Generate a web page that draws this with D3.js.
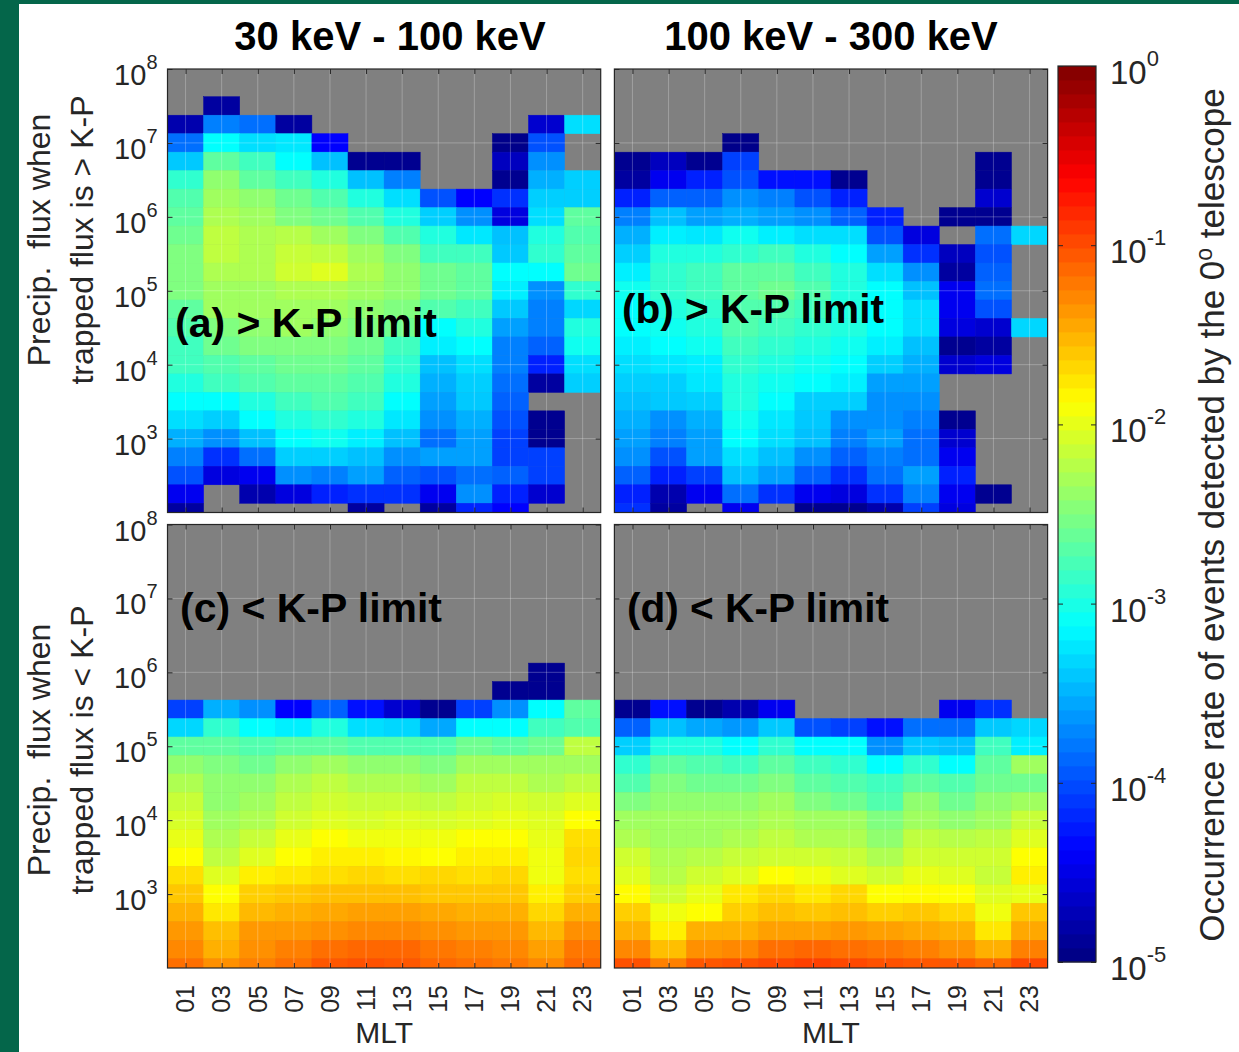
<!DOCTYPE html>
<html lang="en">
<head>
<meta charset="UTF-8">
<title>Occurrence rate vs MLT</title>
<script src="https://cdn.jsdelivr.net/npm/d3@7"></script>
<style>
    body { margin: 0; background: #fff; }
    svg { display: block; font-family: "Liberation Sans", Arial, sans-serif; }
</style>
</head>
<body>
<svg id="chart" width="1239" height="1052"></svg>
<script>
// MLT bins are 2 h wide, labelled by their centre
var mltLabels = ["01", "03", "05", "07", "09", "11", "13", "15", "17", "19", "21", "23"];
var mltCentres = [1, 3, 5, 7, 9, 11, 13, 15, 17, 19, 21, 23];
// log10 of the flux at each row centre, top row first
var fluxBins = [8, 7.75, 7.5, 7.25, 7, 6.75, 6.5, 6.25, 6, 5.75, 5.5, 5.25, 5,
    4.75, 4.5, 4.25, 4, 3.75, 3.5, 3.25, 3, 2.75, 2.5, 2.25, 2];
var fluxTicks = [1e3, 1e4, 1e5, 1e6, 1e7, 1e8];
var rateTicks = [1e-5, 1e-4, 1e-3, 1e-2, 1e-1, 1e0];
var titles = ["30 keV - 100 keV", "100 keV - 300 keV"];
var N = null; // no data -> grey

// log10 occurrence rate, rows follow fluxBins, columns follow mltCentres
var panelA = [
    [N, N, N, N, N, N, N, N, N, N, N, N],
    [N, N, N, N, N, N, N, N, N, N, N, N],
    [N, -4.84, N, N, N, N, N, N, N, N, N, N],
    [-4.77, -3.75, -3.83, -4.84, N, N, N, N, N, N, -4.61, -3.28],
    [-3.83, -3.12, -3.28, -3.24, -4.38, N, N, N, N, -4.95, -3.98, N],
    [-3.39, -2.66, -2.81, -3.12, -3.43, -4.92, -4.92, N, N, -4.69, -3.67, N],
    [-2.89, -2.42, -2.66, -2.81, -2.97, -3.43, -3.75, N, N, -4.92, -3.51, -3.36],
    [-2.73, -2.34, -2.42, -2.58, -2.73, -2.97, -3.28, -3.98, -4.38, -4.14, -3.36, -3.36],
    [-2.66, -2.27, -2.34, -2.5, -2.58, -2.73, -2.97, -3.36, -3.67, -4.53, -3.28, -2.66],
    [-2.58, -2.19, -2.27, -2.23, -2.34, -2.5, -2.73, -2.97, -3.24, -3.43, -2.97, -2.73],
    [-2.5, -2.19, -2.27, -2.15, -2.19, -2.34, -2.5, -2.81, -2.81, -3.39, -2.89, -2.66],
    [-2.5, -2.27, -2.27, -2.11, -2.03, -2.27, -2.42, -2.58, -2.66, -3.12, -3.12, -2.58],
    [-2.5, -2.34, -2.34, -2.27, -2.27, -2.34, -2.42, -2.58, -2.66, -3.2, -3.67, -2.89],
    [-2.66, -2.34, -2.34, -2.34, -2.34, -2.42, -2.5, -2.73, -2.81, -3.39, -3.75, -3.32],
    [-2.73, -2.5, -2.42, -2.34, -2.42, -2.5, -2.58, -3.12, -2.97, -3.59, -3.75, -2.97],
    [-2.81, -2.58, -2.5, -2.5, -2.5, -2.58, -2.81, -3.2, -3.12, -3.75, -3.9, -3.05],
    [-2.81, -2.73, -2.66, -2.58, -2.58, -2.66, -2.89, -3.43, -3.28, -3.75, -4.22, -3.28],
    [-2.97, -2.81, -2.73, -2.66, -2.66, -2.73, -2.97, -3.51, -3.36, -3.83, -4.84, -3.36],
    [-3.12, -3.12, -2.97, -2.81, -2.73, -2.81, -3.12, -3.59, -3.39, -3.9, N, N],
    [-3.28, -3.36, -3.12, -2.97, -2.89, -2.97, -3.24, -3.67, -3.51, -3.98, -4.92, N],
    [-3.51, -3.67, -3.43, -3.12, -3.05, -3.2, -3.43, -3.83, -3.59, -4.06, -4.92, N],
    [-3.75, -4.14, -3.83, -3.36, -3.36, -3.43, -3.67, -3.59, -3.59, -4.06, -4.06, N],
    [-3.98, -4.53, -4.45, -3.67, -3.75, -3.59, -3.9, -3.98, -3.83, -3.9, -4.06, N],
    [-4.45, N, -4.77, -4.53, -4.22, -4.14, -4.14, -4.45, -3.67, -4.22, -4.61, N],
    [-4.84, N, N, N, N, -4.84, N, -4.84, -4.2, -4.38, N, N]
];
var panelB = [
    [N, N, N, N, N, N, N, N, N, N, N, N],
    [N, N, N, N, N, N, N, N, N, N, N, N],
    [N, N, N, N, N, N, N, N, N, N, N, N],
    [N, N, N, N, N, N, N, N, N, N, N, N],
    [N, N, N, -4.95, N, N, N, N, N, N, N, N],
    [-4.92, -4.69, -4.92, -4.06, N, N, N, N, N, N, -4.92, N],
    [-4.84, -4.45, -4.22, -3.98, -4.3, -4.3, -4.92, N, N, N, -4.92, N],
    [-4.22, -3.9, -3.9, -3.67, -3.75, -3.98, -4.22, N, N, N, -4.61, N],
    [-3.75, -3.43, -3.59, -3.51, -3.59, -3.67, -3.9, -4.22, N, -4.92, -4.92, N],
    [-3.51, -3.2, -3.24, -3.05, -3.2, -3.28, -3.28, -3.98, -4.53, N, -3.83, -3.32],
    [-3.36, -2.97, -2.97, -2.89, -2.81, -2.97, -3.12, -3.59, -4.14, -4.69, -3.98, N],
    [-3.2, -2.89, -2.81, -2.66, -2.66, -2.81, -2.97, -3.28, -3.67, -4.84, -3.9, N],
    [-3.05, -2.89, -2.81, -2.66, -2.58, -2.73, -2.97, -3.12, -3.43, -4.45, -3.83, N],
    [-3.12, -2.97, -2.89, -2.73, -2.73, -2.81, -2.97, -3.12, -3.28, -4.45, -3.98, N],
    [-3.12, -3.05, -2.97, -2.73, -2.81, -2.89, -2.97, -3.12, -3.28, -4.53, -4.61, -3.32],
    [-3.2, -3.12, -3.05, -2.81, -2.89, -2.97, -3.05, -3.2, -3.43, -4.92, -4.84, N],
    [-3.28, -3.24, -3.2, -2.89, -2.97, -3.05, -3.12, -3.36, -3.51, -4.61, -4.53, N],
    [-3.36, -3.36, -3.24, -2.97, -3.05, -3.12, -3.2, -3.59, -3.59, N, N, N],
    [-3.43, -3.39, -3.36, -2.97, -3.12, -3.36, -3.36, -3.67, -3.67, N, N, N],
    [-3.51, -3.67, -3.51, -3.05, -3.24, -3.39, -3.67, -3.67, -3.75, -4.92, N, N],
    [-3.59, -3.75, -3.59, -3.12, -3.28, -3.43, -3.75, -3.59, -3.83, -4.61, N, N],
    [-3.67, -3.98, -3.59, -3.28, -3.43, -3.67, -3.9, -3.75, -3.83, -4.45, N, N],
    [-3.9, -4.22, -4.06, -3.43, -3.59, -3.9, -4.14, -3.83, -3.59, -4.22, N, N],
    [-4.22, -4.77, -4.45, -3.83, -4.14, -4.45, -4.53, -4.14, -3.75, -4.45, -4.92, N],
    [-4.14, -4.84, N, -4.45, N, -4.92, -4.92, -4.77, -4.06, -4.53, N, N]
];
var panelC = [
    [N, N, N, N, N, N, N, N, N, N, N, N],
    [N, N, N, N, N, N, N, N, N, N, N, N],
    [N, N, N, N, N, N, N, N, N, N, N, N],
    [N, N, N, N, N, N, N, N, N, N, N, N],
    [N, N, N, N, N, N, N, N, N, N, N, N],
    [N, N, N, N, N, N, N, N, N, N, N, N],
    [N, N, N, N, N, N, N, N, N, N, N, N],
    [N, N, N, N, N, N, N, N, N, N, N, N],
    [N, N, N, N, N, N, N, N, N, N, -4.92, N],
    [N, N, N, N, N, N, N, N, N, -4.92, -4.92, N],
    [-4.06, -3.51, -3.67, -4.38, -3.9, -4.3, -4.61, -4.92, -4.06, -3.67, -3.12, -2.66],
    [-3.32, -2.89, -3.12, -3.2, -2.97, -3.28, -3.32, -3.55, -3.12, -3.12, -2.81, -2.73],
    [-2.66, -2.66, -2.73, -2.66, -2.66, -2.73, -2.73, -2.73, -2.58, -2.66, -2.58, -2.19],
    [-2.42, -2.5, -2.58, -2.42, -2.34, -2.42, -2.42, -2.5, -2.34, -2.34, -2.34, -2.34],
    [-2.27, -2.42, -2.42, -2.27, -2.19, -2.27, -2.27, -2.34, -2.19, -2.19, -2.27, -2.19],
    [-2.15, -2.42, -2.34, -2.19, -2.11, -2.15, -2.15, -2.19, -2.11, -2.07, -2.11, -2.03],
    [-2.07, -2.34, -2.27, -2.11, -2.03, -2.07, -2.03, -2.07, -2.03, -1.99, -2.03, -1.88],
    [-1.99, -2.27, -2.15, -1.99, -1.88, -1.95, -1.95, -1.95, -1.88, -1.88, -1.99, -1.72],
    [-1.88, -2.19, -2.03, -1.88, -1.8, -1.8, -1.84, -1.88, -1.8, -1.8, -1.95, -1.68],
    [-1.72, -2.03, -1.8, -1.76, -1.72, -1.68, -1.72, -1.68, -1.72, -1.68, -1.95, -1.72],
    [-1.6, -1.88, -1.64, -1.6, -1.56, -1.56, -1.56, -1.6, -1.6, -1.6, -1.8, -1.64],
    [-1.49, -1.76, -1.53, -1.49, -1.45, -1.41, -1.41, -1.45, -1.49, -1.49, -1.68, -1.49],
    [-1.37, -1.56, -1.37, -1.37, -1.33, -1.29, -1.29, -1.33, -1.37, -1.37, -1.53, -1.33],
    [-1.29, -1.49, -1.33, -1.25, -1.17, -1.13, -1.13, -1.21, -1.25, -1.29, -1.41, -1.21],
    [-1.17, -1.33, -1.25, -1.17, -1.05, -1.02, -1.05, -1.13, -1.17, -1.21, -1.29, -1.13]
];
var panelD = [
    [N, N, N, N, N, N, N, N, N, N, N, N],
    [N, N, N, N, N, N, N, N, N, N, N, N],
    [N, N, N, N, N, N, N, N, N, N, N, N],
    [N, N, N, N, N, N, N, N, N, N, N, N],
    [N, N, N, N, N, N, N, N, N, N, N, N],
    [N, N, N, N, N, N, N, N, N, N, N, N],
    [N, N, N, N, N, N, N, N, N, N, N, N],
    [N, N, N, N, N, N, N, N, N, N, N, N],
    [N, N, N, N, N, N, N, N, N, N, N, N],
    [N, N, N, N, N, N, N, N, N, N, N, N],
    [-4.92, -4.3, -4.92, -4.77, -4.45, N, N, N, N, -4.45, -4.14, N],
    [-3.9, -3.43, -3.55, -3.63, -3.39, -3.98, -4.06, -4.3, -3.83, -3.83, -3.39, -3.32],
    [-3.36, -2.97, -2.97, -3.12, -2.89, -3.12, -3.12, -3.67, -3.39, -3.43, -2.81, -3.2],
    [-2.89, -2.66, -2.73, -2.81, -2.66, -2.81, -2.89, -3.12, -2.89, -3.12, -2.66, -2.34],
    [-2.73, -2.5, -2.58, -2.58, -2.5, -2.66, -2.73, -2.81, -2.66, -2.73, -2.58, -2.58],
    [-2.5, -2.42, -2.42, -2.42, -2.34, -2.5, -2.58, -2.73, -2.42, -2.58, -2.42, -2.34],
    [-2.34, -2.34, -2.34, -2.34, -2.27, -2.34, -2.34, -2.5, -2.34, -2.42, -2.34, -2.15],
    [-2.27, -2.34, -2.34, -2.27, -2.19, -2.27, -2.27, -2.42, -2.19, -2.23, -2.19, -2.03],
    [-2.11, -2.27, -2.23, -2.15, -2.11, -2.11, -2.15, -2.27, -2.11, -2.11, -2.11, -1.88],
    [-2.03, -2.23, -2.11, -2.03, -1.88, -1.95, -2.03, -2.11, -1.99, -2.03, -2.15, -1.8],
    [-1.86, -2.11, -1.99, -1.76, -1.68, -1.76, -1.68, -1.88, -1.86, -1.88, -2.03, -1.99],
    [-1.64, -1.95, -1.88, -1.64, -1.56, -1.6, -1.56, -1.64, -1.6, -1.68, -1.95, -1.6],
    [-1.49, -1.8, -1.49, -1.49, -1.41, -1.41, -1.37, -1.41, -1.45, -1.49, -1.76, -1.45],
    [-1.29, -1.56, -1.33, -1.29, -1.17, -1.13, -1.17, -1.21, -1.25, -1.33, -1.49, -1.25],
    [-1.02, -1.25, -1.05, -1.02, -0.98, -0.94, -0.98, -1.02, -1.05, -1.05, -1.13, -0.98]
];

// MATLAB style jet colormap, t in [0,1]
function jet(t) {
    var c = function (v) { return Math.max(0, Math.min(1, v)); };
    var r = c(1.5 - Math.abs(4 * t - 3));
    var g = c(1.5 - Math.abs(4 * t - 2));
    var b = c(1.5 - Math.abs(4 * t - 1));
    return d3.rgb(r * 255, g * 255, b * 255).formatHex();
}
var colour = d3.scaleLinear().domain([-5, 0]).range([0, 1]).clamp(true);

var ink = "#262626";
var svg = d3.select("#chart");

// white page with the green frame on the left and top
svg.append("rect").attr("width", 1239).attr("height", 1052).attr("fill", "#fff");
svg.append("rect").attr("width", 19).attr("height", 1052).attr("fill", "#04664a");
svg.append("rect").attr("width", 1239).attr("height", 4).attr("fill", "#04664a");

var panelW = 433.2, panelH = 443.5;
var panels = [
    { id: "a", data: panelA, left: 167.5, top: 69, label: "(a) > K-P limit", lx: 175, ly: 337, showX: false, showY: true },
    { id: "b", data: panelB, left: 614.4, top: 69, label: "(b) > K-P limit", lx: 622, ly: 323, showX: false, showY: false },
    { id: "c", data: panelC, left: 167.5, top: 524.5, label: "(c) < K-P limit", lx: 180, ly: 622, showX: true, showY: true },
    { id: "d", data: panelD, left: 614.4, top: 524.5, label: "(d) < K-P limit", lx: 627, ly: 622, showX: true, showY: false }
];

panels.forEach(function (p) {
    var x = d3.scaleLinear().domain([0, 24]).range([p.left, p.left + panelW]);
    var y = d3.scaleLog().domain([1e2, 1e8]).range([p.top + panelH, p.top]);
    var g = svg.append("g");

    g.append("clipPath").attr("id", "clip-" + p.id).append("rect")
        .attr("x", p.left).attr("y", p.top).attr("width", panelW).attr("height", panelH);
    g.append("rect")
        .attr("x", p.left).attr("y", p.top).attr("width", panelW).attr("height", panelH)
        .attr("fill", "#808080");

    var cells = [];
    p.data.forEach(function (row, i) {
        row.forEach(function (v, j) {
            if (v !== null) cells.push({ mlt: mltCentres[j], flux: fluxBins[i], v: v });
        });
    });
    g.append("g").attr("clip-path", "url(#clip-" + p.id + ")")
        .selectAll("rect").data(cells).join("rect")
        .attr("x", function (d) { return x(d.mlt - 1); })
        .attr("width", function (d) { return x(d.mlt + 1) - x(d.mlt - 1); })
        .attr("y", function (d) { return y(Math.pow(10, d.flux + 0.125)); })
        .attr("height", function (d) { return y(Math.pow(10, d.flux - 0.125)) - y(Math.pow(10, d.flux + 0.125)); })
        .attr("fill", function (d) { return jet(colour(d.v)); })
        .attr("stroke", function (d) { return jet(colour(d.v)); })
        .attr("stroke-width", 0.5);

    // grid on top of the cells
    var grid = g.append("g").attr("stroke", "#fff").attr("stroke-opacity", 0.25).attr("stroke-width", 1);
    grid.selectAll("line.v").data(mltCentres).join("line").attr("class", "v")
        .attr("x1", function (d) { return x(d); }).attr("x2", function (d) { return x(d); })
        .attr("y1", p.top).attr("y2", p.top + panelH);
    grid.selectAll("line.h").data(fluxTicks.slice(0, -1)).join("line").attr("class", "h")
        .attr("y1", function (d) { return y(d); }).attr("y2", function (d) { return y(d); })
        .attr("x1", p.left).attr("x2", p.left + panelW);

    // inward ticks on all four sides
    var bottom = d3.axisBottom(x).tickValues(mltCentres).tickSizeInner(-5).tickSizeOuter(0)
        .tickFormat(p.showX ? function (d, i) { return mltLabels[i]; } : "");
    var gb = g.append("g").attr("transform", "translate(0," + (p.top + panelH) + ")").call(bottom);
    gb.selectAll("text")
        .attr("transform", "rotate(-90)").attr("x", -17).attr("y", 0).attr("dy", "0.33em")
        .attr("text-anchor", "end").style("font-size", "25px");
    g.append("g").attr("transform", "translate(0," + p.top + ")")
        .call(d3.axisTop(x).tickValues(mltCentres).tickSizeInner(-5).tickSizeOuter(0).tickFormat(""));
    g.append("g").attr("transform", "translate(" + p.left + ",0)")
        .call(d3.axisLeft(y).tickValues(fluxTicks).tickSizeInner(-5).tickSizeOuter(0).tickFormat(""));
    g.append("g").attr("transform", "translate(" + (p.left + panelW) + ",0)")
        .call(d3.axisRight(y).tickValues(fluxTicks).tickSizeInner(-5).tickSizeOuter(0).tickFormat(""));
    g.selectAll(".domain").remove();
    g.selectAll(".tick").attr("color", ink).attr("font-family", null);

    g.append("rect")
        .attr("x", p.left).attr("y", p.top).attr("width", panelW).attr("height", panelH)
        .attr("fill", "none").attr("stroke", ink).attr("stroke-width", 1.2);

    if (p.showY) {
        var lab = g.append("g").selectAll("text").data(fluxTicks).join("text")
            .attr("x", p.left - 10).attr("y", function (d) { return y(d) + 16; })
            .attr("text-anchor", "end").attr("fill", ink).style("font-size", "29px");
        lab.append("tspan").text("10");
        lab.append("tspan").attr("dy", -16).style("font-size", "20px")
            .text(function (d) { return Math.round(Math.log10(d)); });
    }
    if (p.showX) {
        g.append("text").attr("x", x(12)).attr("y", 1043).attr("text-anchor", "middle")
            .attr("fill", ink).style("font-size", "30px").text("MLT");
    }

    g.append("text").attr("x", p.lx).attr("y", p.ly)
        .style("font-size", "40px").style("font-weight", "bold").attr("fill", "#000")
        .attr("textLength", 262).attr("lengthAdjust", "spacingAndGlyphs")
        .text(p.label);
});

// column titles
svg.selectAll("text.title").data(titles).join("text").attr("class", "title")
    .attr("x", function (d, i) { return i === 0 ? 390 : 831; }).attr("y", 50)
    .attr("text-anchor", "middle").style("font-size", "40px").style("font-weight", "bold")
    .attr("fill", "#000").text(function (d) { return d; });

// y axis titles (two lines, rotated)
[["Precip.\u00a0 flux when", "trapped flux is > K-P", 240],
 ["Precip.\u00a0 flux when", "trapped flux is < K-P", 750]].forEach(function (t) {
    svg.append("text").attr("transform", "translate(50," + t[2] + ") rotate(-90)")
        .attr("text-anchor", "middle").attr("fill", ink).style("font-size", "32px").text(t[0]);
    svg.append("text").attr("transform", "translate(93," + t[2] + ") rotate(-90)")
        .attr("text-anchor", "middle").attr("fill", ink).style("font-size", "32px").text(t[1]);
});

// colour bar
var cbLeft = 1058, cbW = 38, cbTop = 66, cbBot = 962;
var cy = d3.scaleLog().domain([1e-5, 1]).range([cbBot, cbTop]);
var levels = d3.range(64);
svg.append("g").selectAll("rect").data(levels).join("rect")
    .attr("x", cbLeft).attr("width", cbW)
    .attr("y", function (k) { return cy(Math.pow(10, -5 + 5 * (k + 1) / 64)); })
    .attr("height", function (k) { return cy(Math.pow(10, -5 + 5 * k / 64)) - cy(Math.pow(10, -5 + 5 * (k + 1) / 64)) + 0.4; })
    .attr("fill", function (k) { return jet((k + 0.5) / 64); });
var cb = svg.append("g");
cb.append("g").attr("transform", "translate(" + cbLeft + ",0)")
    .call(d3.axisLeft(cy).tickValues(rateTicks).tickSizeInner(-5).tickSizeOuter(0).tickFormat(""));
cb.append("g").attr("transform", "translate(" + (cbLeft + cbW) + ",0)")
    .call(d3.axisRight(cy).tickValues(rateTicks).tickSizeInner(-5).tickSizeOuter(0).tickFormat(""));
cb.selectAll(".domain").remove();
cb.selectAll(".tick").attr("color", ink);
cb.append("rect").attr("x", cbLeft).attr("y", cbTop).attr("width", cbW).attr("height", cbBot - cbTop)
    .attr("fill", "none").attr("stroke", ink).attr("stroke-width", 1.2);
var cbl = cb.append("g").selectAll("text").data(rateTicks).join("text")
    .attr("x", 1110).attr("y", function (d) { return cy(d) + 18; })
    .attr("fill", ink).style("font-size", "33px");
cbl.append("tspan").text("10");
cbl.append("tspan").attr("dy", -18).style("font-size", "22px")
    .text(function (d) { var e = Math.round(Math.log10(d)); return e === 0 ? "0" : "-" + Math.abs(e); });

var cbTitle = svg.append("text").attr("transform", "translate(1224,515) rotate(-90)")
    .attr("text-anchor", "middle").attr("fill", ink).style("font-size", "35px");
cbTitle.append("tspan").text("Occurrence rate of events detected by the 0");
cbTitle.append("tspan").attr("dy", -12).style("font-size", "23px").text("o");
cbTitle.append("tspan").attr("dy", 12).text(" telescope");
</script>
</body>
</html>
